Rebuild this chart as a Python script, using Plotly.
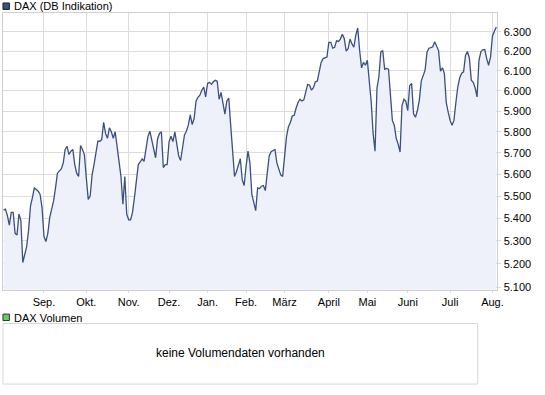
import math
import pandas as pd
import plotly.graph_objects as go

# ---------------- data ----------------
start_date = "2009-08-03"
end_date = "2010-08-04"
holidays = ["2009-12-24", "2009-12-25", "2009-12-31", "2010-01-01", "2010-04-02", "2010-04-05"]

close_aug_oct_2009 = [5437, 5441, 5412, 5369, 5426, 5426, 5333, 5326, 5419, 5390, 5206, 5246, 5275, 5346, 5455,
                      5493, 5537, 5530, 5522, 5507, 5448, 5319, 5297, 5333, 5404, 5441, 5478, 5537, 5605, 5616,
                      5625, 5652, 5716, 5731, 5692, 5708, 5716, 5645, 5605, 5590, 5735, 5716, 5692, 5582, 5485,
                      5500, 5597, 5645, 5708, 5755, 5755, 5763, 5846, 5792, 5769, 5819, 5800, 5769, 5800, 5723,
                      5641, 5590, 5463, 5590, 5419]
close_nov_jan = [5393, 5393, 5426, 5493, 5567, 5645, 5657, 5672, 5660, 5711, 5777, 5803, 5761, 5723, 5677,
                 5766, 5792, 5800, 5631, 5645, 5645, 5753, 5779, 5753, 5800, 5742, 5685, 5664, 5731, 5785,
                 5803, 5832, 5882, 5835, 5864, 5949, 5968, 5978, 6003, 6018, 5970, 6037, 6042, 6032, 6045,
                 6052, 6048, 5958, 5992, 5947, 5885, 5950, 5964, 5832, 5708, 5590, 5612, 5641, 5672, 5575,
                 5548]
close_feb_apr_2010 = [5637, 5708, 5653, 5507, 5471, 5434, 5537, 5534, 5545, 5548, 5525, 5605, 5685, 5705, 5711,
                      5716, 5653, 5621, 5597, 5590, 5692, 5777, 5824, 5845, 5876, 5880, 5915, 5942, 5958, 5950,
                      5955, 5998, 6032, 6028, 6003, 6015, 6045, 6048, 6102, 6142, 6162, 6165, 6170, 6245, 6245,
                      6215, 6220, 6253, 6250, 6262, 6287, 6265, 6200, 6212, 6262, 6237, 6220, 6282, 6320, 6203,
                      6115, 6142, 6128]
close_may_aug_2010 = [6153, 6045, 5947, 5792, 5708, 6012, 6070, 6195, 6203, 6108, 6112, 6108, 5995, 5855, 5832,
                      5769, 5741, 5704, 5927, 5958, 5948, 5903, 6025, 6037, 5887, 5870, 5903, 5953, 6048, 6078,
                      6103, 6195, 6215, 6218, 6222, 6248, 6220, 6203, 6098, 6115, 6087, 5942, 5895, 5855, 5832,
                      5855, 5942, 6020, 6065, 6088, 6095, 6178, 6198, 6165, 6053, 6042, 6015, 5970, 6153, 6198,
                      6207, 6208, 6162, 6128, 6170, 6278, 6303, 6325]

month_labels = ["Sep.", "Okt.", "Nov.", "Dez.", "Jan.", "Feb.", "März", "April", "Mai", "Juni", "Juli", "Aug."]
month_keys = ["2009-09", "2009-10", "2009-11", "2009-12", "2010-01", "2010-02", "2010-03",
              "2010-04", "2010-05", "2010-06", "2010-07", "2010-08"]
y_ticks = [5100, 5200, 5300, 5400, 5500, 5600, 5700, 5800, 5900, 6000, 6100, 6200, 6300]

title_main = "DAX (DB Indikation)"
title_vol = "DAX Volumen"
no_volume_text = "keine Volumendaten vorhanden"

# ---------------- build ----------------
closes = close_aug_oct_2009 + close_nov_jan + close_feb_apr_2010 + close_may_aug_2010
dates = [d for d in pd.bdate_range(start_date, end_date) if d.strftime("%Y-%m-%d") not in holidays]
n = min(len(dates), len(closes))
dates = dates[:n]
closes = closes[:n]
idx = list(range(n))
month_of = [d.strftime("%Y-%m") for d in dates]
tick_pos = [month_of.index(k) for k in month_keys]
y_text = [f"{v:,}".replace(",", ".") for v in y_ticks]

W, H = 545, 395
FONT = "Liberation Sans, Arial, sans-serif"
GRID = "#dcdcdc"
LINE = "#3b4f80"

def fx(px):
    return px / W

def fy(py):
    return 1 - py / H

fig = go.Figure()
fig.add_trace(go.Scatter(
    x=idx, y=closes, mode="lines",
    line=dict(color=LINE, width=1.3),
    fill="tozeroy", fillcolor="#eef1fa",
    customdata=[d.strftime("%d.%m.%Y") for d in dates],
    hovertemplate="%{customdata}: %{y}<extra></extra>",
    showlegend=False,
))

fig.update_layout(
    width=W, height=H,
    margin=dict(l=0, r=0, t=0, b=0),
    paper_bgcolor="white", plot_bgcolor="white",
    font=dict(family=FONT, size=11, color="#000000"),
    showlegend=False,
    xaxis=dict(
        domain=[fx(3), fx(503)], range=[-0.3, n - 1 + 0.6],
        tickvals=tick_pos, ticktext=month_labels, tickangle=0,
        showgrid=True, gridcolor=GRID, gridwidth=1,
        showline=True, linecolor="#cfcfcf", mirror=True,
        ticks="outside", ticklen=2, tickcolor=GRID,
        zeroline=False, tickfont=dict(size=11, family=FONT, color="#000"),
    ),
    yaxis=dict(
        domain=[fy(292), fy(13)], type="log",
        range=[math.log10(5090), math.log10(6399)],
        side="right", tickvals=y_ticks, ticktext=y_text,
        showgrid=True, gridcolor=GRID, gridwidth=1,
        showline=True, linecolor="#cfcfcf", mirror=True,
        ticks="outside", ticklen=3, tickcolor=GRID,
        zeroline=False, tickfont=dict(size=11, family=FONT, color="#000"),
    ),
)

shapes = [
    dict(type="rect", xref="paper", yref="paper", x0=fx(3), x1=fx(9.5), y0=fy(9.5), y1=fy(3),
         fillcolor=LINE, line=dict(color="#222222", width=1)),
    dict(type="rect", xref="paper", yref="paper", x0=fx(3), x1=fx(9.5), y0=fy(323), y1=fy(316.5),
         fillcolor="#66cc66", line=dict(color="#333333", width=1)),
    dict(type="rect", xref="paper", yref="paper", x0=fx(3), x1=fx(483), y0=fy(387), y1=fy(326),
         fillcolor="rgba(0,0,0,0)", line=dict(color="#d8d8d8", width=1)),
]
fig.update_layout(shapes=shapes)

annotations = [
    dict(text=title_main, xref="paper", yref="paper", x=fx(12.5), y=fy(6.5), xanchor="left", yanchor="middle",
         showarrow=False, font=dict(size=11, family=FONT, color="#000")),
    dict(text=title_vol, xref="paper", yref="paper", x=fx(12.5), y=fy(320), xanchor="left", yanchor="middle",
         showarrow=False, font=dict(size=11, family=FONT, color="#000")),
    dict(text=no_volume_text, xref="paper", yref="paper", x=fx(243), y=fy(356), xanchor="center", yanchor="middle",
         showarrow=False, font=dict(size=12, family=FONT, color="#000")),
]
fig.update_layout(annotations=annotations)

fig.write_html("out.html", config={"displayModeBar": False},
               post_script="document.body.style.margin='0';document.body.style.padding='0';")
